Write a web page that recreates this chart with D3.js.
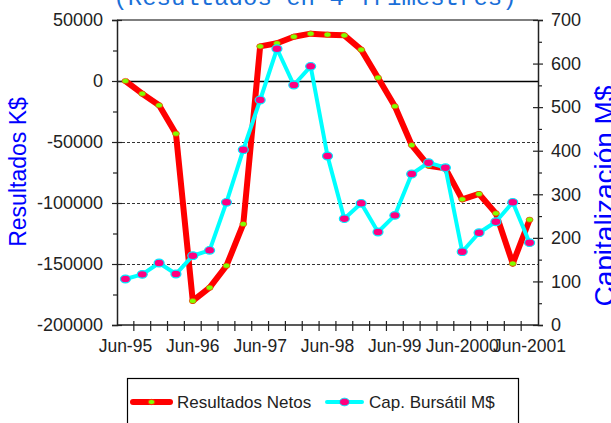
<!DOCTYPE html>
<html>
<head>
<meta charset="utf-8">
<script src="https://cdn.jsdelivr.net/npm/d3@7"></script>
<style>
  body { margin: 0; background: #fff; }
  svg { display: block; font-family: "Liberation Sans", Arial, sans-serif; }
</style>
</head>
<body>
<div id="chart"></div>
<script>
const quarters = [
  "Jun-95", "Sep-95", "Dec-95", "Mar-96",
  "Jun-96", "Sep-96", "Dec-96", "Mar-97",
  "Jun-97", "Sep-97", "Dec-97", "Mar-98",
  "Jun-98", "Sep-98", "Dec-98", "Mar-99",
  "Jun-99", "Sep-99", "Dec-99", "Mar-2000",
  "Jun-2000", "Sep-2000", "Dec-2000", "Mar-2001",
  "Jun-2001"
];
const resultados = [
  0, -10400, -19900, -43200,
  -180300, -169400, -151400, -117200,
  28400, 30900, 36300, 38800,
  38000, 37400, 25700, 2700,
  -20700, -52500, -69400, -71600,
  -97000, -92600, -108500, -149700,
  -113700
];
const capitalizacion = [
  105.6, 116.3, 142.3, 117,
  159, 171.4, 281.6, 402.3,
  516.4, 634, 550.8, 593.7,
  387.9, 244, 279.3, 213.4,
  251.7, 346.5, 372.5, 361,
  168.2, 211.8, 237, 281.6,
  188.9
];
const leftTicks = [50000, 0, -50000, -100000, -150000, -200000];
const rightTicks = [0, 100, 200, 300, 400, 500, 600, 700];
const xLabels = ["Jun-95", "Jun-96", "Jun-97", "Jun-98", "Jun-99", "Jun-2000", "Jun-2001"];
const seriesNames = ["Resultados Netos", "Cap. Bursátil M$"];

const W = 611, H = 423;
const plot = { left: 117, right: 538, top: 20, bottom: 325 };

const svg = d3.select("#chart").append("svg")
  .attr("width", W)
  .attr("height", H);

const x = d3.scaleBand().domain(quarters).range([plot.left, plot.right]).padding(0);
const yL = d3.scaleLinear().domain([-200000, 50000]).range([plot.bottom, plot.top]);
const yR = d3.scaleLinear().domain([0, 700]).range([plot.bottom, plot.top]);
const cx = d => x(d) + x.bandwidth() / 2;

// title, mostly cut off at the top
svg.append("text")
  .attr("x", 315)
  .attr("y", 5)
  .attr("text-anchor", "middle")
  .style("font-family", "'Liberation Mono', 'Courier New', monospace")
  .style("font-size", "24px")
  .style("fill", "#1a6fd8")
  .text("(Resultados en 4 Trimestres)");

// top border
svg.append("line")
  .attr("x1", plot.left).attr("x2", plot.right)
  .attr("y1", plot.top).attr("y2", plot.top)
  .style("stroke", "#555").style("stroke-width", 1.5);

// gridlines
svg.append("g").selectAll("line")
  .data(leftTicks.filter(v => v < 50000 && v > -200000))
  .enter().append("line")
  .attr("x1", plot.left).attr("x2", plot.right)
  .attr("y1", d => Math.round(yL(d)) + 0.5)
  .attr("y2", d => Math.round(yL(d)) + 0.5)
  .style("stroke", d => d === 0 ? "#000" : "#333")
  .style("stroke-width", d => d === 0 ? 1.5 : 1)
  .style("stroke-dasharray", d => d === 0 ? null : "3,2");

// left axis
const gL = svg.append("g")
  .attr("transform", `translate(${plot.left},0)`)
  .call(d3.axisLeft(yL).tickValues(leftTicks).tickSize(5).tickPadding(9)
    .tickFormat(d => String(d)));
gL.selectAll(".tick line").attr("x2", -5).attr("x1", 5);
gL.append("g").call(d3.axisLeft(yL)
  .tickValues(d3.range(-175000, 50000, 50000)).tickSize(4).tickFormat(""))
  .select(".domain").remove();
gL.selectAll(".tick line").style("stroke", "#222").style("stroke-width", 1.2);

// right axis
const gR = svg.append("g")
  .attr("transform", `translate(${plot.right},0)`)
  .call(d3.axisRight(yR).tickValues(rightTicks).tickSize(5).tickPadding(8)
    .tickFormat(d => String(d)));
gR.selectAll(".tick line").attr("x1", -5).attr("x2", 5);
gR.append("g").call(d3.axisRight(yR)
  .tickValues(d3.range(50, 700, 100)).tickSize(4).tickFormat(""))
  .select(".domain").remove();
gR.selectAll(".tick line").style("stroke", "#222").style("stroke-width", 1.2);

// bottom axis
const bandEdges = quarters.map(q => x(q)).concat([plot.right]);
const gB = svg.append("g");
gB.append("line")
  .attr("x1", plot.left).attr("x2", plot.right)
  .attr("y1", plot.bottom).attr("y2", plot.bottom)
  .style("stroke", "#222").style("stroke-width", 1.5);
gB.selectAll(".xtick").data(bandEdges.slice(1, -1)).enter().append("line")
  .attr("class", "xtick")
  .attr("x1", d => d).attr("x2", d => d)
  .attr("y1", plot.bottom - 4).attr("y2", plot.bottom + 6)
  .style("stroke", "#222").style("stroke-width", 1.2);
gB.selectAll(".xlab").data(xLabels).enter().append("text")
  .attr("class", "xlab")
  .attr("x", d => cx(d))
  .attr("y", plot.bottom + 27)
  .attr("text-anchor", "middle")
  .style("font-size", "17.5px")
  .style("fill", "#222")
  .text(d => d);

[gL, gR].forEach(g => {
  g.select(".domain").style("stroke", "#222").style("stroke-width", 1.5);
  g.selectAll(".tick text").style("font-size", "18px").style("fill", "#222")
    .style("font-family", "'Liberation Sans', Arial, sans-serif");
});

// axis titles
svg.append("text")
  .attr("transform", `translate(26,172) rotate(-90)`)
  .attr("text-anchor", "middle")
  .style("font-size", "23px")
  .style("fill", "#0000ff")
  .text("Resultados K$");
svg.append("text")
  .attr("transform", `translate(614,196) rotate(-90)`)
  .attr("text-anchor", "middle")
  .style("font-size", "28px")
  .style("fill", "#0000ff")
  .text("Capitalización M$");

// red series
const lineL = d3.line().x((d, i) => cx(quarters[i])).y(d => yL(d));
svg.append("path")
  .datum(resultados)
  .attr("d", lineL)
  .style("fill", "none")
  .style("stroke", "#ff0000")
  .style("stroke-width", 6)
  .style("stroke-linejoin", "round");
svg.append("g").selectAll("ellipse")
  .data(resultados)
  .enter().append("ellipse")
  .attr("cx", (d, i) => cx(quarters[i]))
  .attr("cy", d => yL(d))
  .attr("rx", 3.5).attr("ry", 2.6)
  .style("fill", "#80ff00")
  .style("stroke", "#ff2000")
  .style("stroke-width", 0.6);

// cyan series
const lineR = d3.line().x((d, i) => cx(quarters[i])).y(d => yR(d));
svg.append("path")
  .datum(capitalizacion)
  .attr("d", lineR)
  .style("fill", "none")
  .style("stroke", "#00ffff")
  .style("stroke-width", 4)
  .style("stroke-linejoin", "round");
svg.append("g").selectAll("ellipse")
  .data(capitalizacion)
  .enter().append("ellipse")
  .attr("cx", (d, i) => cx(quarters[i]))
  .attr("cy", d => yR(d))
  .attr("rx", 5).attr("ry", 3.8)
  .style("fill", "#ff0080")
  .style("stroke", "#00e8ff")
  .style("stroke-width", 1.2);

// legend
const lg = svg.append("g");
lg.append("rect")
  .attr("x", 127.5).attr("y", 378.5)
  .attr("width", 391).attr("height", 60)
  .style("fill", "#fff").style("stroke", "#000").style("stroke-width", 1.2);
const legendItems = [
  { name: seriesNames[0], x0: 133, x1: 170, tx: 177, stroke: "#ff0000", sw: 6, fill: "#80ff00", rx: 3.5, ry: 2.6, ms: "#ff2000" },
  { name: seriesNames[1], x0: 327, x1: 362, tx: 369, stroke: "#00ffff", sw: 4, fill: "#ff0080", rx: 5, ry: 3.8, ms: "#00e8ff" }
];
const li = lg.selectAll(".li").data(legendItems).enter().append("g").attr("class", "li");
li.append("line")
  .attr("x1", d => d.x0).attr("x2", d => d.x1)
  .attr("y1", 402).attr("y2", 402)
  .style("stroke", d => d.stroke).style("stroke-width", d => d.sw)
  .style("stroke-linecap", "round");
li.append("ellipse")
  .attr("cx", d => (d.x0 + d.x1) / 2).attr("cy", 402)
  .attr("rx", d => d.rx).attr("ry", d => d.ry)
  .style("fill", d => d.fill).style("stroke", d => d.ms).style("stroke-width", 1);
li.append("text")
  .attr("x", d => d.tx).attr("y", 408)
  .style("font-size", "17px")
  .style("fill", "#222")
  .text(d => d.name);
</script>
</body>
</html>
